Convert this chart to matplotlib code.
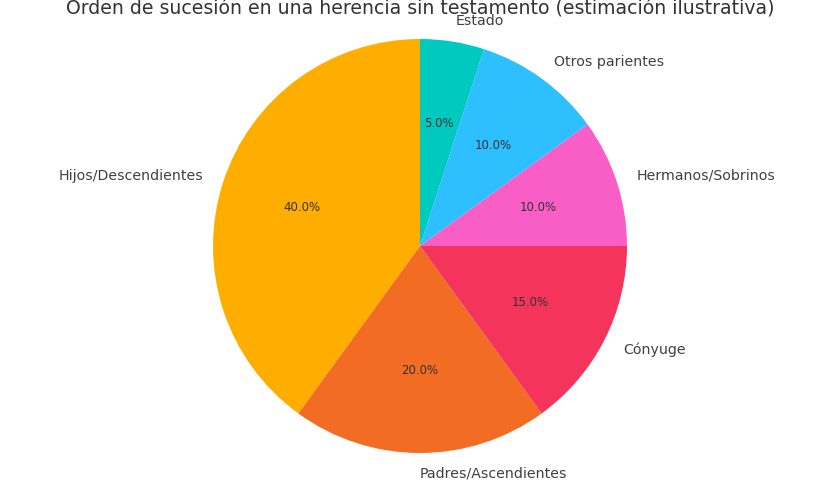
import matplotlib
matplotlib.use("Agg")
import matplotlib.pyplot as plt

# Data
#._____________________

labels = ['Hijos/Descendientes', 'Padres/Ascendientes', 'Cónyuge',
          'Hermanos/Sobrinos', 'Otros parientes', 'Estado']
shares = [40, 20, 15, 10, 10, 5]
colors = ['#FFAE00', '#F36C23', '#F5345B', '#F95DC6', '#2DBFFF', '#00C9BF']
title = 'Orden de sucesión en una herencia sin testamento (estimación ilustrativa)'

# Plot
#._____________________

fig = plt.figure(figsize=(8.4, 4.8), dpi=100)
ax = fig.add_axes([(420 - 207) / 840, (480 - 246 - 207) / 480, 414 / 840, 414 / 480])

wedges, texts, autotexts = ax.pie(shares, labels=labels, colors=colors, startangle=90,
                                  counterclock=True, autopct='%1.1f%%',
                                  textprops={'fontsize': 10.2, 'color': '#404040'})
for t in autotexts:
    t.set_fontsize(8.5)
    t.set_color('#333333')
ax.set_xlim(-1, 1)
ax.set_ylim(-1, 1)
ax.set_aspect('equal')

fig.text(0.5, 1 - 14 / 480, title, ha='center', va='baseline', fontsize=13.6, color='#333333')

fig.savefig('out.png', dpi=100)
